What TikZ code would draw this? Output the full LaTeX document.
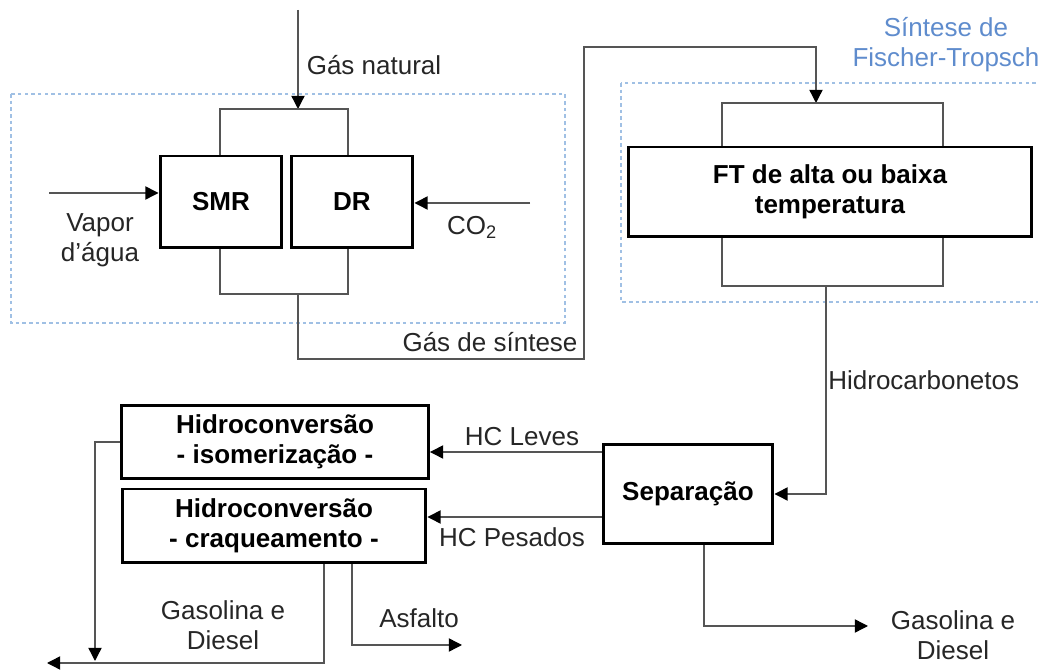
\documentclass[tikz,border=0pt]{standalone}
\usepackage{fontspec}
\setmainfont{Liberation Sans}
\usepackage{tikz}
\usetikzlibrary{arrows.meta}
\usepackage{xcolor}
\definecolor{regionblue}{RGB}{160,192,228}
\definecolor{titleblue}{RGB}{95,140,205}
\definecolor{linegray}{RGB}{85,85,85}
\newcommand{\plainfont}{\fontsize{14.8pt}{17pt}\selectfont}
\tikzset{
    unit/.style={draw,line width=1.7pt,font=\plainfont\bfseries,align=center,inner sep=0pt},
    flow/.style={draw=linegray,line width=0.8pt},
    feed/.style={flow,-{Triangle[length=7.5pt,width=7.5pt,color=black]}},
    region/.style={draw=regionblue,line width=0.8pt,dash pattern=on 2pt off 1.8pt},
    tag/.style={font=\plainfont,align=center,text=black!85,inner sep=0pt},
}

\begin{document}
\begin{tikzpicture}[x=0.02cm,y=-0.02cm]
    \useasboundingbox (0,0) rectangle (1038,671);

    % regions
    \draw[region] (11,94) rectangle (565,323);
    \draw[region] (621,83) rectangle (1050,302);
    \node[tag,text=titleblue] (fttitle) at (946,45) {Síntese de\\Fischer-Tropsch};

    % units
    \node[unit,minimum width=2.44cm,minimum height=1.84cm] (smr) at (221,202) {SMR};
    \node[unit,minimum width=2.44cm,minimum height=1.84cm] (dr) at (352,202) {DR};
    \node[unit,minimum width=8.06cm,minimum height=1.8cm] (ft) at (830,192) {FT de alta ou baixa\\temperatura};
    \node[unit,minimum width=3.4cm,minimum height=1.98cm] (sep) at (688,494) {Separação};
    \node[unit,minimum width=6.14cm,minimum height=1.46cm] (iso) at (275,442) {Hidroconversão\\- isomerização -};
    \node[unit,minimum width=6.08cm,minimum height=1.48cm] (craq) at (274,526) {Hidroconversão\\- craqueamento -};

    % turning points
    \coordinate (gn) at (298,10);
    \coordinate (refL) at (220,109);
    \coordinate (refR) at (348,109);
    \coordinate (synL) at (220,294);
    \coordinate (synR) at (348,294);
    \coordinate (syn) at (298,294);
    \coordinate (synB) at (584,359);
    \coordinate (synC) at (584,47);
    \coordinate (ftIn) at (816,103);
    \coordinate (ftL) at (722,103);
    \coordinate (ftR) at (943,103);
    \coordinate (ftBL) at (722,286);
    \coordinate (ftBR) at (943,286);
    \coordinate (hc) at (826,286);
    \coordinate (vap) at (49,193);
    \coordinate (co2) at (530,203);
    \coordinate (lev) at (600,452);
    \coordinate (pes) at (600,517);
    \coordinate (isoOut) at (95,661);
    \coordinate (gdL) at (324,663);
    \coordinate (gdOut) at (47,663);
    \coordinate (asfX) at (352,645);
    \coordinate (asf) at (462,645);
    \coordinate (sepX) at (704,626);
    \coordinate (gdR) at (868,626);

    % reforming
    \draw[feed] (gn) -- (gn |- refL);
    \draw[flow] (smr.north -| refL) -- (refL) -- (refR) -- (dr.north -| refR);
    \draw[flow] (smr.south -| synL) -- (synL) -- (synR) -- (dr.south -| synR);
    \draw[feed] (vap) -- (smr.west |- vap);
    \draw[feed] (co2) -- (dr.east |- co2);
    \draw[feed] (syn) |- (synB) -- (synC) -| (ftIn);

    % synthesis
    \draw[flow] (ft.north -| ftL) -- (ftL) -- (ftR) -- (ft.north -| ftR);
    \draw[flow] (ft.south -| ftBL) -- (ftBL) -- (ftBR) -- (ft.south -| ftBR);
    \draw[feed] (hc) |- (sep.east);

    % upgrading
    \draw[feed] (sep.west |- lev) -- (iso.east |- lev);
    \draw[feed] (sep.west |- pes) -- (craq.east |- pes);
    \draw[feed] (iso.west) -| (isoOut);
    \draw[feed] (craq.south -| gdL) |- (gdOut);
    \draw[feed] (craq.south -| asfX) |- (asf);
    \draw[feed] (sep.south -| sepX) |- (gdR);

    % labels
    \node[tag] (gnlabel) at (374,65) {Gás natural};
    \node[tag] (vaplabel) at (100,240) {Vapor\\d’água};
    \node[tag] (co2label) at (472,227) {CO\textsubscript{2}};
    \node[tag] (synlabel) at (490,342) {Gás de síntese};
    \node[tag,anchor=west] (hclabel) at (828,380) {Hidrocarbonetos};
    \node[tag] (levlabel) at (522,437) {HC Leves};
    \node[tag] (peslabel) at (512,537) {HC Pesados};
    \node[tag] (gdlabel) at (223,625) {Gasolina e\\Diesel};
    \node[tag] (asflabel) at (419,618) {Asfalto};
    \node[tag] (gdlabelR) at (953,635) {Gasolina e\\Diesel};
\end{tikzpicture}
\end{document}
